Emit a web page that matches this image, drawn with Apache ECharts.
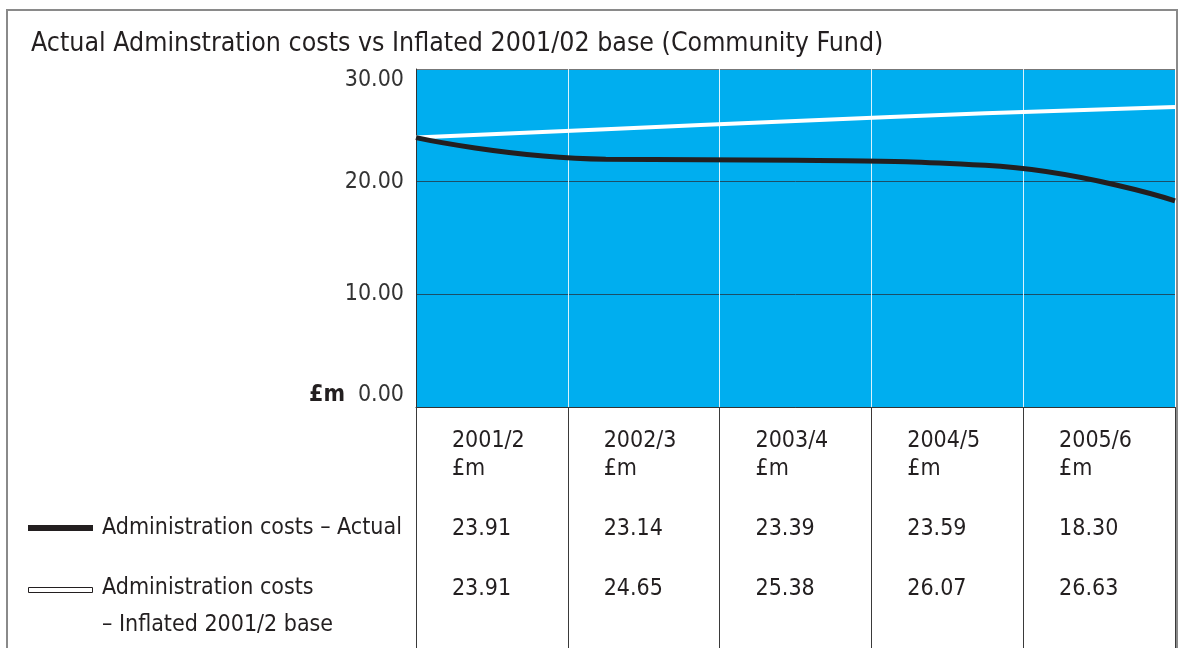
<!DOCTYPE html>
<html><head><meta charset="utf-8">
<script src="https://cdn.jsdelivr.net/npm/echarts@6/dist/echarts.min.js"></script>
<style>html,body{margin:0;padding:0;background:#fff}#c{width:1181px;height:648px}</style>
</head><body><div id="c"></div>
<script>
// ---- data ----
const categories = ['2001/2', '2002/3', '2003/4', '2004/5', '2005/6'];
const unitLabel = '£m';
const actualTable = [23.91, 23.14, 23.39, 23.59, 18.30];
const inflatedTable = [23.91, 24.65, 25.38, 26.07, 26.63];
// the curves as they are drawn in the picture
const actualCurve = [23.91, 22.0, 21.9, 21.45, 18.30];
const inflatedCurve = [23.91, 24.65, 25.38, 26.07, 26.63];
const yMin = 0, yMax = 30, yStep = 10;
const seriesNames = ['Administration costs – Actual', 'Administration costs', '– Inflated 2001/2 base'];
const titleText = 'Actual Adminstration costs vs Inflated 2001/02 base (Community Fund)';

const FONT = "'Liberation Sans Narrow', 'DejaVu Sans Condensed', 'Roboto Condensed', sans-serif";
const INK = '#231f20';

const chart = echarts.init(document.getElementById('c'), null, {renderer: 'canvas'});
const option = {
  animation: false,
  backgroundColor: '#fff',
  textStyle: {fontFamily: FONT},
  title: {
    text: titleText, left: 26, top: 26,
    textStyle: {fontFamily: FONT, fontSize: 26.5, fontWeight: 'normal', color: INK}
  },
  grid: {
    left: 416, top: 69, right: 6, bottom: 241,
    show: true, backgroundColor: '#00aeef', borderWidth: 0
  },
  xAxis: [
    {type: 'category', data: categories, boundaryGap: false, show: false, position: 'top'},
    {
      type: 'category', data: categories, boundaryGap: true, position: 'bottom',
      axisLine: {show: true, lineStyle: {color: '#333', width: 1}},
      axisTick: {show: true, interval: 0, length: 241, lineStyle: {color: '#3a3a3a', width: 1}},
      splitLine: {show: true, interval: 0, lineStyle: {color: 'rgba(255,255,255,0.85)', width: 1}},
      axisLabel: {
        interval: 0, margin: 20, color: INK,
        formatter: (v, i) => `{h|${v}}\n{h|${unitLabel}}\n{r1|${actualTable[i].toFixed(2)}}\n{r2|${inflatedTable[i].toFixed(2)}}`,
        rich: {
          h: {fontFamily: FONT, fontSize: 23, color: INK, width: 80, align: 'left', lineHeight: 28},
          r1: {fontFamily: FONT, fontSize: 23, color: INK, width: 80, align: 'left', lineHeight: 92},
          r2: {fontFamily: FONT, fontSize: 23, color: INK, width: 80, align: 'left', lineHeight: 28}
        }
      }
    }
  ],
  yAxis: {
    type: 'value', min: yMin, max: yMax, interval: yStep,
    axisLine: {show: true, lineStyle: {color: '#333', width: 1}},
    axisTick: {show: false},
    splitLine: {show: true, lineStyle: {color: ['#333', '#1b4f68', '#1b4f68', '#777'], width: 1}},
    axisLabel: {
      margin: 12,
      verticalAlignMinLabel: 'bottom',
      verticalAlignMaxLabel: 'top',
      formatter: v => v === 0 ? `{u|${unitLabel}}{n|${v.toFixed(2)}}` : `{n|${v.toFixed(2)}}`,
      rich: {
        n: {fontFamily: FONT, fontSize: 23, color: '#333'},
        u: {fontFamily: FONT, fontSize: 23, fontWeight: 'bold', color: INK, padding: [0, 13, 0, 0]}
      }
    }
  },
  series: [
    {
      type: 'line', name: seriesNames[1], xAxisIndex: 0, data: inflatedCurve,
      smooth: true, symbol: 'none', lineStyle: {color: '#fff', width: 4}, z: 2
    },
    {
      type: 'line', name: seriesNames[0], xAxisIndex: 0, data: actualCurve,
      smooth: 0.5, symbol: 'none', lineStyle: {color: INK, width: 5}, z: 3
    }
  ],
  graphic: [
    {type: 'rect', silent: true, z: 100, shape: {x: 7, y: 10, width: 1170, height: 660},
     style: {fill: 'none', stroke: '#8a8a8a', lineWidth: 2}},
    {type: 'rect', silent: true, shape: {x: 28, y: 525, width: 65, height: 6}, style: {fill: INK}},
    {type: 'rect', silent: true, shape: {x: 28.5, y: 587.5, width: 64, height: 5},
     style: {fill: '#fff', stroke: INK, lineWidth: 1}},
    {type: 'text', silent: true, x: 102, y: 528,
     style: {text: seriesNames[0], fontFamily: FONT, fontSize: 23, fill: INK, verticalAlign: 'middle'}},
    {type: 'text', silent: true, x: 102, y: 570,
     style: {text: seriesNames[1] + '\n' + seriesNames[2], fontFamily: FONT, fontSize: 23, lineHeight: 37, fill: INK, verticalAlign: 'top'}}
  ]
};
chart.setOption(option);
</script></body></html>
